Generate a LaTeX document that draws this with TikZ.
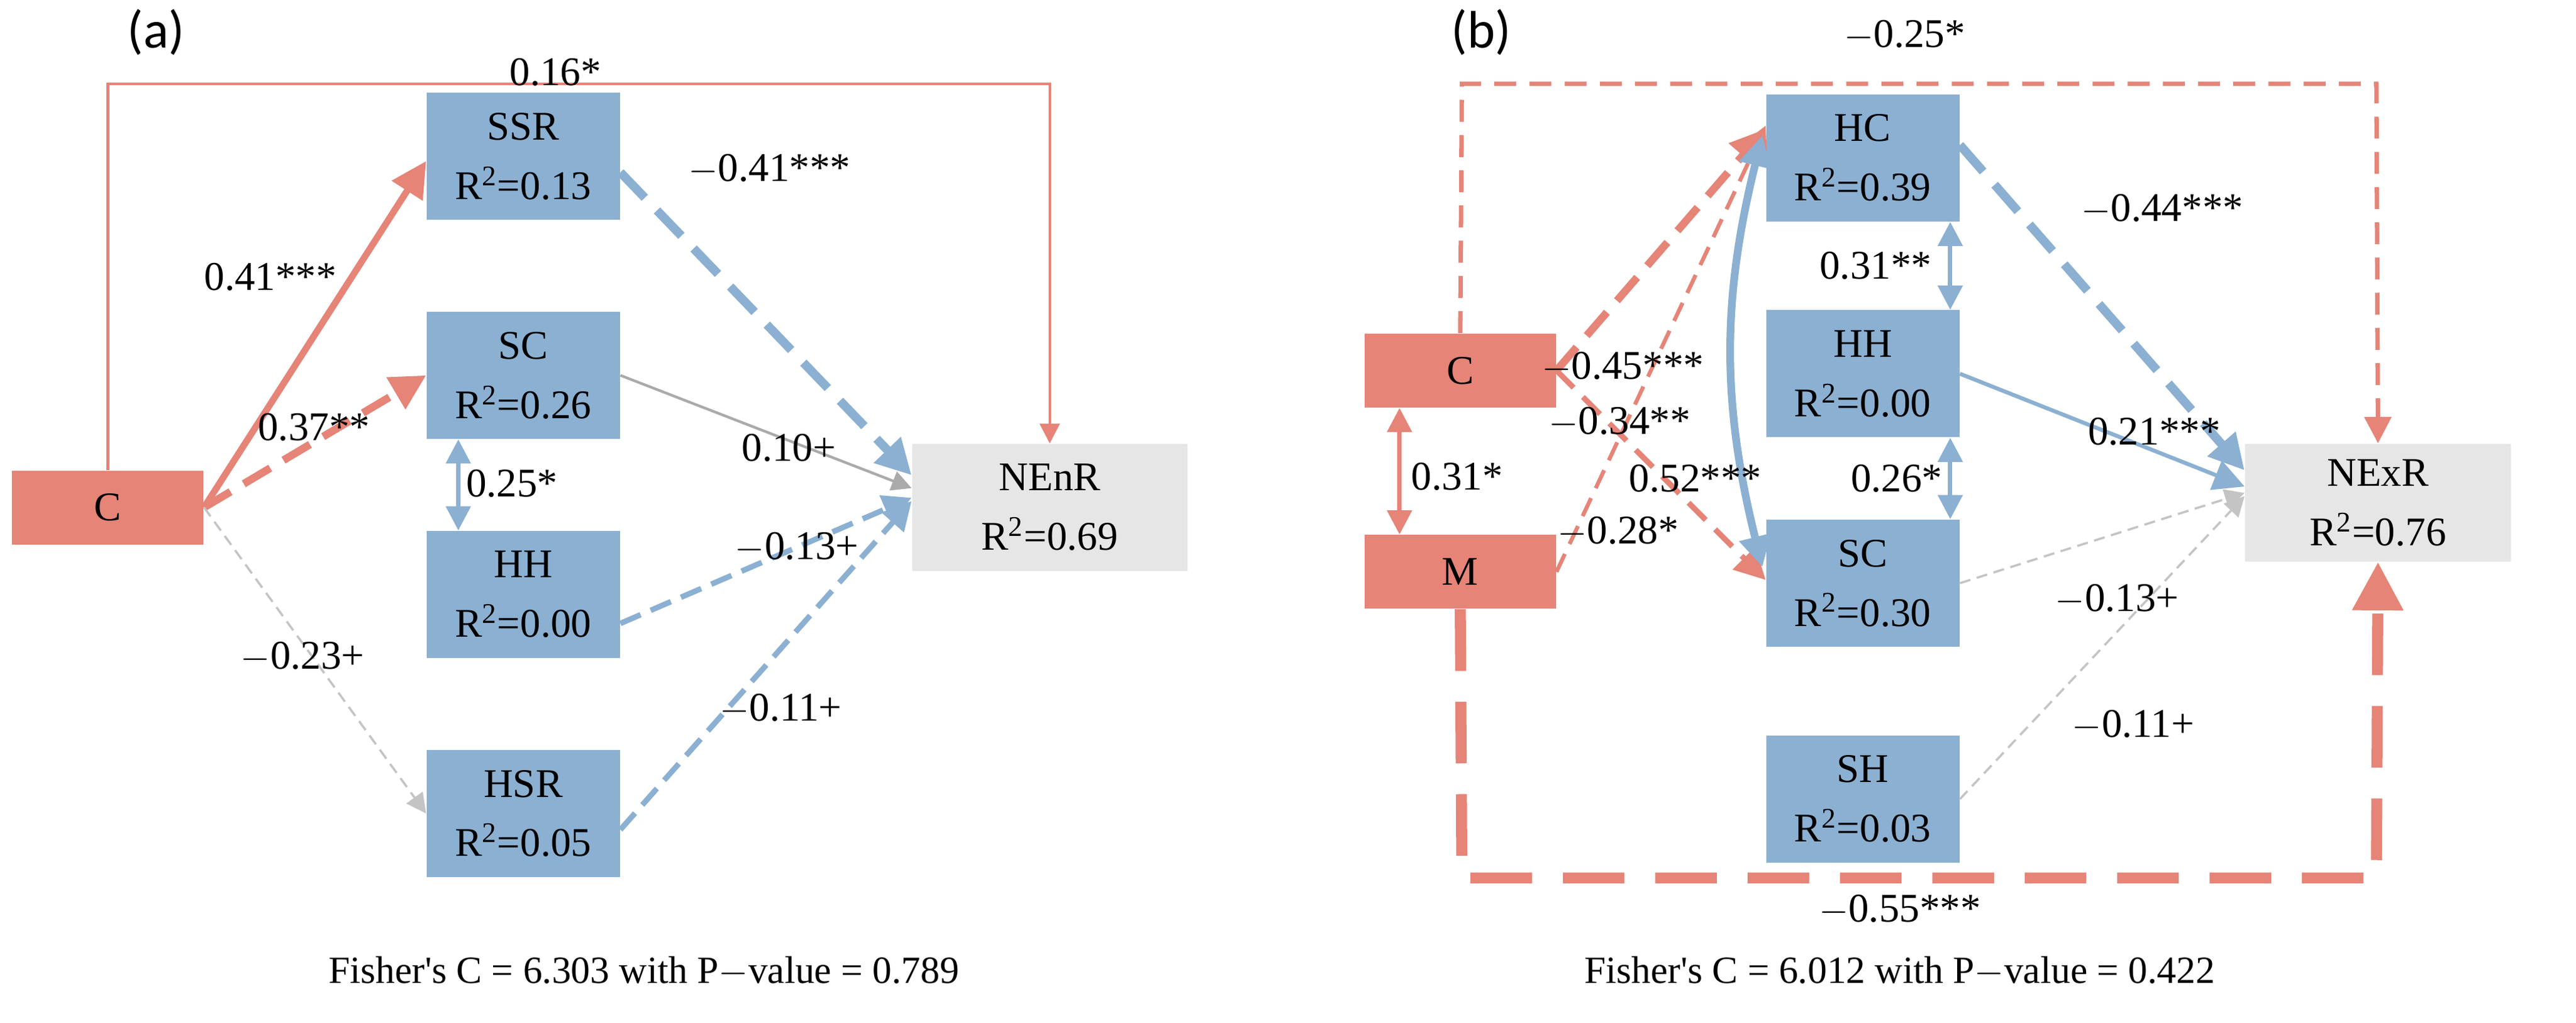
\documentclass[tikz,border=0pt]{standalone}
\usepackage{fontspec}
\setmainfont{Liberation Serif}
\newfontfamily\labfont{Carlito}
\usetikzlibrary{arrows.meta,calc,positioning}
\definecolor{semred}{RGB}{229,132,119}
\definecolor{semblue}{RGB}{139,176,210}
\definecolor{semgray}{RGB}{230,230,230}
\definecolor{pathgray}{RGB}{170,170,170}
\tikzset{
  box/.style={rectangle,inner sep=0pt,minimum width=3.09cm,minimum height=2.03cm,align=center,font=\fontsize{18.5}{27}\selectfont},
  exo/.style={box,fill=semred,minimum width=3.06cm,minimum height=1.18cm},
  med/.style={box,fill=semblue},
  resp/.style={box,fill=semgray,minimum width=4.4cm},
  lab/.style={font=\fontsize{18.5}{20}\selectfont},
  tip/.style={-{Triangle[length=#1,width=#1]}},
  dtip/.style={{Triangle[length=#1,width=#1]}-{Triangle[length=#1,width=#1]}},
}
\newcommand{\Rsq}[1]{R\textsuperscript{2}=#1}
\begin{document}
\begin{tikzpicture}[x=0.02573cm,y=-0.02573cm]
  \useasboundingbox (0,0) rectangle (1600,635);

  % (a) nodes
  \node[font=\labfont\fontsize{24}{26}\selectfont] at (97,20) {(a)};
  \node[exo] (ca) at (67,315) {C};
  \node[med] (ssr) at (325,97) {SSR\\\Rsq{0.13}};
  \node[med] (sca) at (325,233) {SC\\\Rsq{0.26}};
  \node[med] (hha) at (325,369) {HH\\\Rsq{0.00}};
  \node[med] (hsr) at (325,505) {HSR\\\Rsq{0.05}};
  \node[resp] (nenr) at (652,315) {NEnR\\\Rsq{0.69}};
  \coordinate (ta) at (67,52);
  \coordinate (tb) at (652,52);

  % (a) paths
  \draw[semred,line width=1.2pt,tip=9pt] (ca.north) |- (ta) -- (tb) -- (nenr.north);
  \draw[semred,line width=3pt,tip=16pt] (ca.east) -- ($(ssr.west)+(0,3)$);
  \draw[semred,line width=3.5pt,dash pattern=on 14pt off 7pt,tip=16pt] (ca.east) -- (sca.west);
  \draw[pathgray!70,line width=1pt,dash pattern=on 5pt off 3pt,tip=9pt] (ca.east) -- (hsr.west);
  \draw[semblue,line width=4pt,dash pattern=on 16pt off 8pt,tip=16pt] ($(ssr.east)+(0,10)$) -- ($(nenr.west)+(0,-20)$);
  \draw[pathgray,line width=1.2pt,tip=9pt] (sca.east) -- ($(nenr.west)+(0,-12)$);
  \draw[semblue,line width=2.5pt,dash pattern=on 10pt off 5pt,tip=13pt] ($(hha.east)+(0,18)$) -- ($(nenr.west)+(0,-6)$);
  \draw[semblue,line width=2.5pt,dash pattern=on 10pt off 5pt,tip=13pt] ($(hsr.east)+(0,10)$) -- ($(nenr.west)+(0,-4)$);
  \draw[semblue,line width=2pt,dtip=11pt] ($(sca.south west)+(20,0)$) -- ($(hha.north west)+(20,0)$);

  % (a) labels
  \node[lab] at (345,45) {0.16*};
  \node[lab] at (168,172) {0.41***};
  \node[lab] at (195,265) {0.37**};
  \node[lab] at (188,408) {$-$0.23+};
  \node[lab] at (318,300) {0.25*};
  \node[lab] at (478,105) {$-$0.41***};
  \node[lab] at (490,278) {0.10+};
  \node[lab] at (495,340) {$-$0.13+};
  \node[lab] at (485,440) {$-$0.11+};
  \node[font=\fontsize{17.5}{20}\selectfont] at (400,603) {Fisher\textquotesingle s C = 6.303 with P$-$value = 0.789};

  % (b) nodes
  \node[font=\labfont\fontsize{24}{26}\selectfont] at (920,20) {(b)};
  \node[exo] (cb) at (907,230) {C};
  \node[exo] (mb) at (907,355) {M};
  \node[med] (hc) at (1157,98) {HC\\\Rsq{0.39}};
  \node[med] (hhb) at (1157,232) {HH\\\Rsq{0.00}};
  \node[med] (scb) at (1157,362) {SC\\\Rsq{0.30}};
  \node[med] (sh) at (1157,496) {SH\\\Rsq{0.03}};
  \node[resp,minimum width=4.25cm,minimum height=1.88cm] (nexr) at (1477,312) {NExR\\\Rsq{0.76}};
  \coordinate (tc) at (908,52);
  \coordinate (td) at (1476,52);
  \coordinate (bc) at (908,545);
  \coordinate (bd) at (1476,545);

  % (b) paths
  \draw[semred,line width=2pt,dash pattern=on 10pt off 6pt,tip=12pt] (cb.north) -- (tc) -- (td) -- (nexr.north);
  \draw[semred,line width=5pt,dash pattern=on 28pt off 14pt,tip=22pt] (mb.south) -- (bc) -- (bd) -- (nexr.south);
  \draw[semred,line width=3.5pt,dash pattern=on 14pt off 7pt,tip=16pt] (cb.east) -- ($(hc.west)+(0,-18)$);
  \draw[semred,line width=2.5pt,dash pattern=on 11pt off 6pt,tip=14pt] (cb.east) -- ($(scb.west)+(0,-2)$);
  \draw[semred,line width=1.8pt,dash pattern=on 9pt off 5pt,tip=12pt] (mb.east) -- ($(hc.west)+(0,-20)$);
  \draw[semred,line width=2pt,dtip=11pt] ($(cb.south west)+(22,0)$) -- ($(mb.north west)+(22,0)$);
  \draw[semblue,line width=3.5pt,dtip=14pt] ($(hc.west)+(-2,-14)$) to[bend right=14] ($(scb.west)+(-2,-10)$);
  \draw[semblue,line width=2pt,dtip=11pt] ($(hc.south east)+(-6,0)$) -- ($(hhb.north east)+(-6,0)$);
  \draw[semblue,line width=2pt,dtip=11pt] ($(hhb.south east)+(-6,0)$) -- ($(scb.north east)+(-6,0)$);
  \draw[semblue,line width=4pt,dash pattern=on 16pt off 8pt,tip=16pt] ($(hc.east)+(0,-8)$) -- ($(nexr.west)+(0,-20)$);
  \draw[semblue,line width=1.8pt,tip=14pt] (hhb.east) -- ($(nexr.west)+(0,-10)$);
  \draw[pathgray!70,line width=1pt,dash pattern=on 5pt off 3pt,tip=9pt] (scb.east) -- ($(nexr.west)+(0,-6)$);
  \draw[pathgray!70,line width=1pt,dash pattern=on 5pt off 3pt,tip=9pt] (sh.east) -- ($(nexr.west)+(0,-4)$);

  % (b) labels
  \node[lab] at (1183,22) {$-$0.25*};
  \node[lab] at (1008,228) {$-$0.45***};
  \node[lab] at (1006,262) {$-$0.34**};
  \node[lab] at (1005,330) {$-$0.28*};
  \node[lab] at (905,296) {0.31*};
  \node[lab] at (1053,297) {0.52***};
  \node[lab] at (1165,165) {0.31**};
  \node[lab] at (1178,297) {0.26*};
  \node[lab] at (1343,130) {$-$0.44***};
  \node[lab] at (1338,268) {0.21***};
  \node[lab] at (1315,372) {$-$0.13+};
  \node[lab] at (1325,450) {$-$0.11+};
  \node[lab] at (1180,565) {$-$0.55***};
  \node[font=\fontsize{17.5}{20}\selectfont] at (1180,603) {Fisher\textquotesingle s C = 6.012 with P$-$value = 0.422};
\end{tikzpicture}
\end{document}
